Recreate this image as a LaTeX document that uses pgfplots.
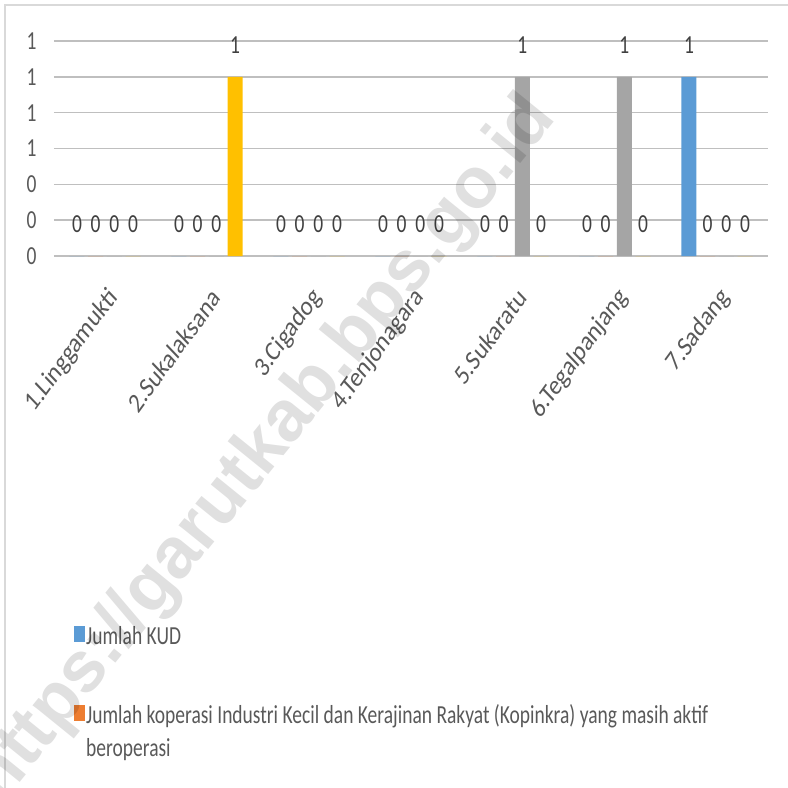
\documentclass[border=0pt]{standalone}
\usepackage{fontspec}
\setmainfont{Carlito}[FakeStretch=0.75]
\newfontfamily\rotfont{Carlito}[FakeSlant=0.18]
\newfontfamily\wmfont{Liberation Sans}
\usepackage{pgfplots}
\pgfplotsset{compat=1.18}
\definecolor{cblue}{HTML}{5B9BD5}
\definecolor{corange}{HTML}{ED7D31}
\definecolor{cgray}{HTML}{A5A5A5}
\definecolor{cyellow}{HTML}{FFC000}
\definecolor{tgray}{HTML}{595959}
\definecolor{lgray}{HTML}{404040}
\definecolor{grid}{HTML}{D9D9D9}
\begin{document}
\begin{tikzpicture}[x=1pt,y=1pt]
\path[use as bounding box] (0,0) rectangle (788,788);
\draw[grid, line width=1.5pt] (5,0) -- (5,783) -- (788,783);
\begin{axis}[
  at={(54pt,532pt)}, anchor=south west,
  scale only axis, width=714pt, height=215pt,
  xmin=-0.5, xmax=6.5, ymin=0, ymax=1.2,
  ybar=3.7pt, bar width=15pt,
  axis line style={draw=none},
  tick style={draw=none},
  xmajorgrids=false, ymajorgrids=true, grid style={grid, line width=1.5pt},
  ytick={0,0.2,0.4,0.6,0.8,1.0,1.2},
  yticklabels={0,0,0,1,1,1,1},
  yticklabel style={font=\fontsize{26}{30}\selectfont, text=tgray, xshift=-14pt},
  xtick={0,1,2,3,4,5,6},
  xticklabels={1.Linggamukti,2.Sukalaksana,3.Cigadog,4.Tenjonagara,5.Sukaratu,6.Tegalpanjang,7.Sadang},
  xticklabel style={font=\rotfont\fontsize{25}{30}\selectfont, text=tgray, xshift=10pt, yshift=-31pt, rotate=54, anchor=east},
  nodes near coords={\pgfmathprintnumber[fixed,precision=0,assume math mode=true]{\pgfplotspointmeta}},
  every node near coord/.append style={font=\fontsize{26}{30}\selectfont, text=lgray, anchor=south, inner sep=0pt, yshift=23pt},
  legend style={at={(0.028,-1.716)}, anchor=north west, draw=none, fill=none, inner sep=0pt,
    row sep=57pt, font=\fontsize{26}{33}\selectfont, text=tgray,
    nodes={inner sep=1pt},
    /tikz/every even column/.append style={column sep=3pt}},
  legend cell align=left,
  legend image code/.code={\fill[#1] (0pt,-6pt) rectangle (11pt,10pt);},
]
\addplot[fill=cblue, draw=none] coordinates {(0,0) (1,0) (2,0) (3,0) (4,0) (5,0) (6,1)};
\addlegendentry{Jumlah KUD}
\addplot[fill=corange, draw=none] coordinates {(0,0) (1,0) (2,0) (3,0) (4,0) (5,0) (6,0)};
\addlegendentry{\parbox[t]{700pt}{Jumlah koperasi Industri Kecil dan Kerajinan Rakyat (Kopinkra) yang masih aktif\\beroperasi}}
\addplot[fill=cgray, draw=none] coordinates {(0,0) (1,0) (2,0) (3,0) (4,1) (5,1) (6,0)};
\addplot[fill=cyellow, draw=none] coordinates {(0,0) (1,1) (2,0) (3,0) (4,0) (5,0) (6,0)};
\end{axis}
\node[rotate=51, text=black, text opacity=0.12, font=\wmfont\bfseries\fontsize{72}{72}\selectfont] at (265,338) {https://garutkab.bps.go.id};
\end{tikzpicture}
\end{document}
